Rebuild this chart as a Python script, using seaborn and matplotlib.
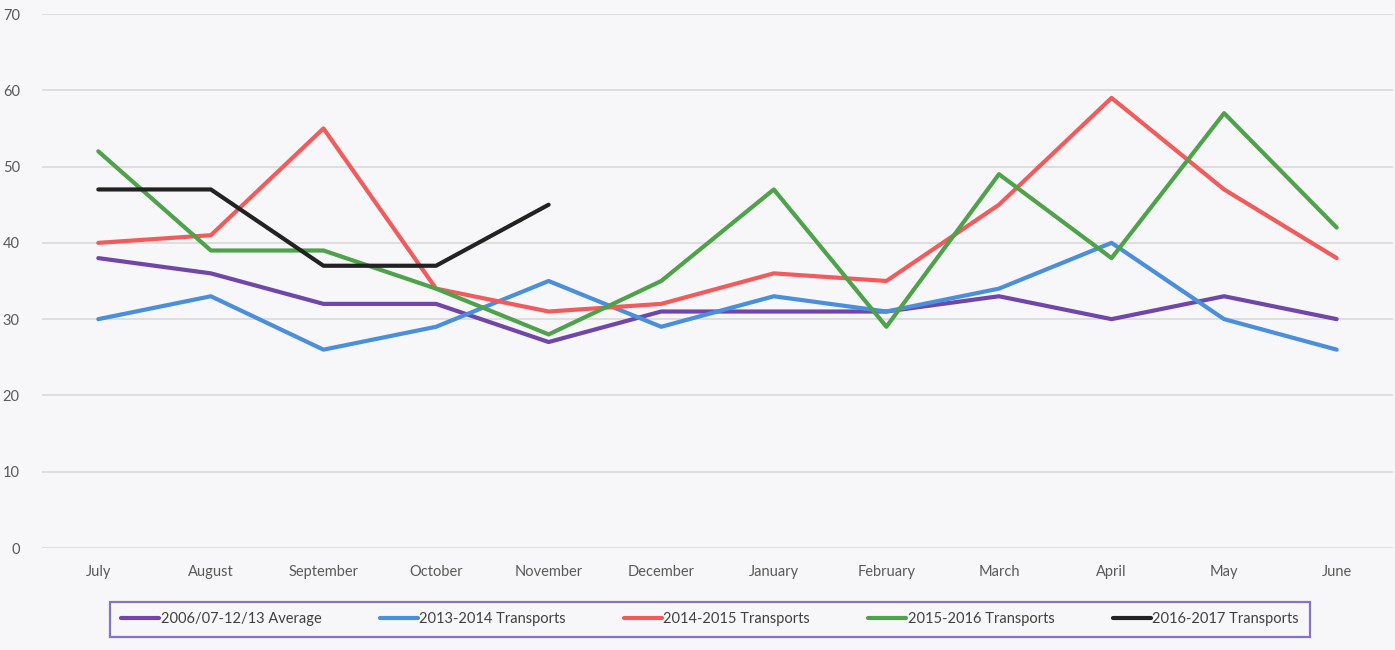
import matplotlib
matplotlib.use("Agg")
import matplotlib.pyplot as plt
import seaborn as sns
import pandas as pd

months = ["July", "August", "September", "October", "November", "December",
          "January", "February", "March", "April", "May", "June"]
avg_0613 = [38, 36, 32, 32, 27, 31, 31, 31, 33, 30, 33, 30]
t_1314 = [30, 33, 26, 29, 35, 29, 33, 31, 34, 40, 30, 26]
t_1415 = [40, 41, 55, 34, 31, 32, 36, 35, 45, 59, 47, 38]
t_1516 = [52, 39, 39, 34, 28, 35, 47, 29, 49, 38, 57, 42]
t_1617 = [47, 47, 37, 37, 45]

series = {
    "2006/07-12/13 Average": avg_0613,
    "2013-2014 Transports": t_1314,
    "2014-2015 Transports": t_1415,
    "2015-2016 Transports": t_1516,
    "2016-2017 Transports": t_1617,
}
colors = ["#7046aa", "#4a8fdc", "#f25b5b", "#4ea24a", "#222222"]

rows = []
for name, vals in series.items():
    for i, v in enumerate(vals):
        rows.append({"month": months[i], "pos": i, "value": v, "series": name})
df = pd.DataFrame(rows)

sns.set_style("white")
plt.rcParams["font.family"] = ["Lato", "DejaVu Sans"]

fig = plt.figure(figsize=(13.95, 6.5), dpi=100)
bg = "#f7f7f9"
fig.patch.set_facecolor(bg)
ax = fig.add_axes([42 / 1395, 1 - 548 / 650, (1393 - 42) / 1395, (548 - 14) / 650])
ax.set_facecolor(bg)

sns.lineplot(data=df, x="pos", y="value", hue="series", palette=colors,
             linewidth=3.0, sort=False, ax=ax, legend=True)

ax.set_xlim(-0.5, 11.5)
ax.set_ylim(0, 70)
ax.set_yticks(range(0, 71, 10))
ax.set_xticks(range(len(months)))
ax.set_xticklabels(months)
ax.yaxis.grid(True, color="#d9d9d9", linewidth=1.2)
ax.xaxis.grid(False)
for s in ax.spines.values():
    s.set_visible(False)
ax.tick_params(axis="both", length=0, labelsize=10.5, colors="#595959")
ax.tick_params(axis="x", pad=12)
ax.tick_params(axis="y", pad=16)
ax.set_xlabel("")
ax.set_ylabel("")

handles, labels = ax.get_legend_handles_labels()
ax.get_legend().remove()
leg = fig.legend(handles, labels, loc="center", bbox_to_anchor=(710 / 1395, 1 - 619.5 / 650),
                 ncol=5, frameon=True, fancybox=False,
                 prop={"family": ["Lato", "DejaVu Sans"], "size": 10.5},
                 handlelength=2.6, handletextpad=0.1, columnspacing=4.0,
                 borderpad=0.75, borderaxespad=0)
frame = leg.get_frame()
frame.set_edgecolor("#6a52b8")
frame.set_linewidth(1.6)
frame.set_facecolor(bg)
for t in leg.get_texts():
    t.set_color("#404040")

fig.savefig("out.png", dpi=100, facecolor=bg)
